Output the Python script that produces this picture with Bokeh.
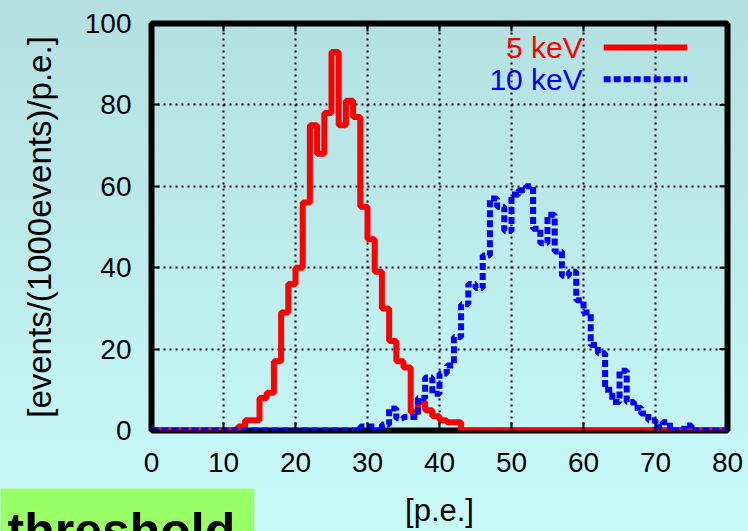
import numpy as np
from bokeh.plotting import figure
from bokeh.models import Range1d, FixedTicker, Label
from bokeh.embed import file_html
from bokeh.resources import INLINE

# ---- data ----
x_ticks = [0, 10, 20, 30, 40, 50, 60, 70, 80]
y_ticks = [0, 20, 40, 60, 80, 100]
n_bins = 80

red_label = "5 keV"
red_first_bin = 12
red_counts = [1, 2.5, 2.5, 8, 9.3, 17, 29, 36, 40, 56, 75, 68, 78, 93, 75, 81, 77,
              55, 47, 39, 30, 22, 17, 15.5, 4.5, 7, 5, 3.5, 2.5, 2, 2]

blue_label = "10 keV"
blue_first_bin = 29
blue_counts = [1, 1, 0, 1.5, 5.4, 3, 3.3, 3.3, 8, 13, 9, 14, 16, 23, 31, 36, 35, 43,
               57, 55, 49, 58, 59, 60, 49.6, 46, 53, 44, 38, 39, 32, 29, 21, 19, 10,
               7, 14.7, 7, 5.6, 4.2, 2.5, 0.8, 2, 0, 0, 1.2, 0]

x_label = "[p.e.]"
y_label = "[events/(1000events)/p.e.]"
note_text = "threshold"

# ---- layout constants ----
FRAME_W, FRAME_H = 576, 407
X_MIN, X_MAX, Y_MIN, Y_MAX = 0, 80, 0, 100
TICK_PX = 8
FONT = "Liberation Sans"


def full_hist(first, counts):
    arr = np.zeros(n_bins)
    arr[first:first + len(counts)] = counts
    edges = np.arange(n_bins + 1)
    return edges, np.append(arr, arr[-1])


p = figure(frame_width=FRAME_W, frame_height=FRAME_H, output_backend="svg",
           toolbar_location=None,
           x_range=Range1d(X_MIN, X_MAX), y_range=Range1d(Y_MIN, Y_MAX),
           min_border_left=151, min_border_right=21, min_border_top=23,
           min_border_bottom=101)
p.styles = {"background-image": "linear-gradient(to bottom, #b3dfe0 0px, #c9fafa 531px)",
            "height": "531px", "width": "748px", "overflow": "hidden"}
p.border_fill_color = None
p.background_fill_color = None
p.outline_line_color = "black"
p.outline_line_width = 6

for ax in (p.xaxis[0], p.yaxis[0]):
    ax.axis_line_color = None
    ax.major_tick_in = TICK_PX
    ax.major_tick_out = 0
    ax.major_tick_line_width = 2
    ax.minor_tick_line_color = None
    ax.major_label_text_font = FONT
    ax.major_label_text_font_size = "28px"
    ax.major_label_text_color = "black"
    ax.axis_label_text_font = FONT
    ax.axis_label_text_font_style = "normal"
    ax.axis_label_text_color = "black"

p.xaxis.ticker = FixedTicker(ticks=x_ticks)
p.yaxis.ticker = FixedTicker(ticks=y_ticks)
p.xaxis.axis_label = x_label
p.yaxis.axis_label = y_label
p.xaxis.axis_label_text_font_size = "31px"
p.yaxis.axis_label_text_font_size = "33px"
p.xaxis.major_label_standoff = 22
p.yaxis.major_label_standoff = 20
p.xaxis.axis_label_standoff = 18
p.yaxis.axis_label_standoff = 24

# mirrored ticks on top and right border, derived from the tick lists
dy = TICK_PX * (Y_MAX - Y_MIN) / FRAME_H
dx = TICK_PX * (X_MAX - X_MIN) / FRAME_W
p.segment(x0=x_ticks, y0=[Y_MAX] * len(x_ticks), x1=x_ticks,
          y1=[Y_MAX - dy] * len(x_ticks), line_color="black", line_width=2)
p.segment(x0=[X_MAX] * len(y_ticks), y0=y_ticks, x1=[X_MAX - dx] * len(y_ticks),
          y1=y_ticks, line_color="black", line_width=2)

p.xgrid.ticker = FixedTicker(ticks=x_ticks)
p.ygrid.ticker = FixedTicker(ticks=y_ticks)
for g in (p.xgrid[0], p.ygrid[0]):
    g.grid_line_color = "black"
    g.grid_line_width = 2
    g.grid_line_dash = "2 4"
    g.grid_line_alpha = 1.0

ex, ry = full_hist(red_first_bin, red_counts)
_, by = full_hist(blue_first_bin, blue_counts)
p.step(ex, ry, mode="after", line_color="#ff0000", line_width=6)
p.step(ex, by, mode="after", line_color="#0000ff", line_width=6, line_dash="7 3")

# legend (gnuplot style: text on the left, sample on the right)
LEG_TEXT_X = 59.9
LEG_LINE_X0, LEG_LINE_X1 = 62.8, 74.4
LEG_Y = [94.1, 86.3]
for txt, col, dash, ly in ((red_label, "#ff0000", "solid", LEG_Y[0]),
                           (blue_label, "#0000ff", "7 3", LEG_Y[1])):
    p.add_layout(Label(x=LEG_TEXT_X, y=ly, text=txt, text_align="right",
                       text_baseline="middle", text_color=col,
                       text_font=FONT, text_font_size="30px"))
    p.line([LEG_LINE_X0, LEG_LINE_X1], [ly, ly], line_color=col, line_width=6,
           line_dash=dash)

# green "threshold" box (cut off at the bottom edge), placed in the lower panel
# so that it is not clipped to the plot frame; padding = (left, right, top, bottom)
NOTE_X = -151 * (X_MAX - X_MIN) / FRAME_W
NOTE_Y = -58 * (Y_MAX - Y_MIN) / FRAME_H
p.add_layout(Label(x=NOTE_X, y=NOTE_Y, text=note_text, text_align="left",
                   text_baseline="top", text_color="black", text_font=FONT,
                   text_font_size="50px", text_font_style="bold",
                   background_fill_color="#99ff66", padding=(7, 19, 14, 5)),
             "below")

open("out.html", "w").write(file_html(p, INLINE))
